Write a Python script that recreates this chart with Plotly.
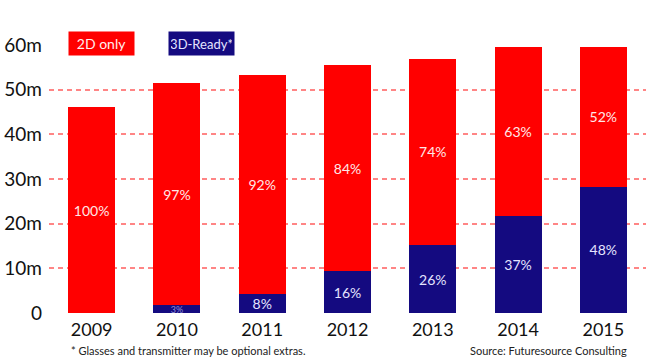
import plotly.graph_objects as go

years = ["2009", "2010", "2011", "2012", "2013", "2014", "2015"]
only_2d = [46.1, 49.8, 49.0, 46.1, 41.7, 37.7, 31.2]
ready_3d = [0.0, 1.7, 4.3, 9.4, 15.2, 21.8, 28.3]
pct_2d = ["100%", "97%", "92%", "84%", "74%", "63%", "52%"]
pct_3d = ["", "3%", "8%", "16%", "26%", "37%", "48%"]
y_tick_vals = [0, 10, 20, 30, 40, 50, 60]
y_tick_text = ["0", "10m", "20m", "30m", "40m", "50m", "60m"]

FONT = "Lato"
RED = "#ff0000"
BLUE = "#140a80"

fig = go.Figure()
fig.add_trace(go.Bar(
    x=years, y=ready_3d, name="3D-Ready*", marker=dict(color=BLUE, line=dict(width=0)),
    text=pct_3d, textposition="inside", insidetextanchor="middle", textangle=0,
    constraintext="none", cliponaxis=False,
    textfont=dict(family=FONT, color=["#dcdcff", "#9090d8", "#e4e4ff", "#e4e4ff", "#e4e4ff", "#e4e4ff", "#e4e4ff"],
                  size=[14, 9, 14, 14, 14, 14, 14]),
    hoverinfo="skip",
))
fig.add_trace(go.Bar(
    x=years, y=only_2d, name="2D only", marker=dict(color=RED, line=dict(width=0)),
    text=pct_2d, textposition="inside", insidetextanchor="middle", textangle=0,
    constraintext="none",
    textfont=dict(family=FONT, color="#ffe8e8", size=14),
    hoverinfo="skip",
))

fig.update_layout(
    width=646, height=360,
    margin=dict(l=49, r=0, t=45, b=47),
    barmode="stack", bargap=0.45,
    plot_bgcolor="white", paper_bgcolor="white",
    showlegend=False,
    font=dict(family=FONT, color="#111111"),
    xaxis=dict(showgrid=False, showline=False, ticks="", zeroline=False,
               tickfont=dict(family=FONT, size=18, color="#111111"), ticklabelstandoff=4),
    yaxis=dict(range=[0, 60], tickvals=y_tick_vals, ticktext=y_tick_text,
               showgrid=True, gridcolor="#ff8585", griddash="5px,4px", gridwidth=1.5,
               zeroline=False, showline=False, ticks="",
               tickfont=dict(family=FONT, size=19, color="#111111"), ticklabelstandoff=6),
    annotations=[
        dict(text="2D only", xref="paper", yref="paper", x=(68 - 49) / 597, y=1 + (45 - 31) / 268,
             xanchor="left", yanchor="top", showarrow=False, bgcolor=RED, width=61, height=19,
             borderpad=2, align="center", font=dict(family=FONT, size=14, color="#ffeeee")),
        dict(text="3D-Ready*", xref="paper", yref="paper", x=(168 - 49) / 597, y=1 + (45 - 31) / 268,
             xanchor="left", yanchor="top", showarrow=False, bgcolor=BLUE, width=61, height=19,
             borderpad=2, align="center", font=dict(family=FONT, size=13, color="#e4e4ff")),
        dict(text="* Glasses and transmitter may be optional extras.", xref="paper", yref="paper",
             x=(69 - 49) / 597, y=-(350 - 313) / 268, xanchor="left", yanchor="middle",
             showarrow=False, font=dict(family=FONT, size=11, color="#222222")),
        dict(text="Source: Futuresource Consulting", xref="paper", yref="paper",
             x=(629 - 49) / 597, y=-(350 - 313) / 268, xanchor="right", yanchor="middle",
             showarrow=False, font=dict(family=FONT, size=11, color="#222222")),
    ],
)

fig.write_html("out.html")
